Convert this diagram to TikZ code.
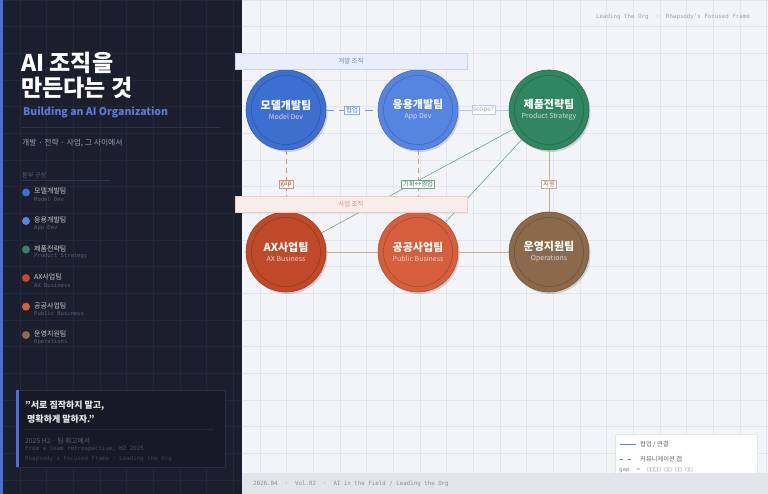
\documentclass[tikz,border=0pt]{standalone}
\usepackage{fontspec}
\setmainfont{Noto Sans CJK KR}
\setmonofont{DejaVu Sans Mono}
\usepackage{tikz}
\usetikzlibrary{positioning,shadows}
\usepackage{xcolor}
\definecolor{paneldark}{RGB}{27,31,45}
\definecolor{panelgrid}{RGB}{35,40,56}
\definecolor{panelrule}{RGB}{46,52,80}
\definecolor{pagebg}{RGB}{242,244,248}
\definecolor{pagegrid}{RGB}{227,230,238}
\definecolor{accentblue}{RGB}{74,111,214}
\definecolor{subblue}{RGB}{91,123,217}
\definecolor{dimtext}{RGB}{90,96,117}
\definecolor{softtext}{RGB}{154,160,176}
\definecolor{cmodel}{RGB}{61,111,208}
\definecolor{capp}{RGB}{85,133,224}
\definecolor{cprod}{RGB}{47,134,96}
\definecolor{cax}{RGB}{192,73,42}
\definecolor{cpub}{RGB}{214,94,60}
\definecolor{cops}{RGB}{138,106,74}
\definecolor{gapred}{RGB}{217,144,122}
\definecolor{linktan}{RGB}{200,173,144}
\definecolor{linkgreen}{RGB}{106,168,126}
\definecolor{barbg}{RGB}{228,229,234}

\newcommand{\teamlabel}[2]{{\bfseries\fontsize{11}{13}\selectfont #1}\\[-2pt]{\fontsize{7}{9}\selectfont\color{white!85!black}#2}}

\begin{document}
\begin{tikzpicture}[x=1pt,y=-1pt,
  team/.style={circle,minimum size=80pt,inner sep=0pt,align=center,text=white,fill=#1,draw=#1!85!black,line width=0.6pt,
    drop shadow={shadow xshift=1.5pt,shadow yshift=-2pt,fill=black,opacity=0.15}},
  ring/.style={circle,minimum size=69pt,inner sep=0pt,draw=#1!75!black,line width=0.5pt},
  orgband/.style={minimum width=232pt,minimum height=16pt,inner sep=0pt,font=\fontsize{6.5}{7}\selectfont},
  tag/.style={solid,fill=white,draw=#1,line width=0.5pt,inner sep=1.3pt,font=\fontsize{6.5}{7}\selectfont},
  dot/.style={circle,fill=#1,minimum size=8pt,inner sep=0pt},
  legkr/.style={anchor=west,inner sep=0pt,text=white!80!black,font=\fontsize{7}{8}\selectfont},
  legen/.style={anchor=west,inner sep=0pt,text=dimtext,font=\ttfamily\fontsize{5.5}{6}\selectfont},
  monolab/.style={anchor=west,inner sep=0pt,font=\ttfamily\fontsize{5.8}{6}\selectfont},
  collab/.style={line width=0.8pt},
  gapline/.style={line width=0.8pt,gapred,dash pattern=on 5pt off 4pt}
]
\useasboundingbox (0,0) rectangle (768,494);

% Background + grid
\fill[pagebg] (0,0) rectangle (768,494);
\foreach \i in {9,...,28} {\draw[pagegrid,line width=0.5pt] ({20+26.667*\i},0) -- ({20+26.667*\i},494);}
\foreach \j in {0,...,18} {\draw[pagegrid,line width=0.5pt] (242,{26.667*\j}) -- (768,{26.667*\j});}

% Left panel
\fill[paneldark] (0,0) rectangle (242,494);
\foreach \i in {0,...,8} {\draw[panelgrid,line width=0.5pt] ({20+26.667*\i},0) -- ({20+26.667*\i},494);}
\foreach \j in {0,...,18} {\draw[panelgrid,line width=0.5pt] (0,{26.667*\j}) -- (242,{26.667*\j});}
\fill[accentblue] (0,0) rectangle (3,494);

% Title block
\node[anchor=west,inner sep=0pt,text=white,font=\bfseries\fontsize{23}{26}\selectfont] (title1) at (21,63) {AI 조직을};
\node[anchor=west,inner sep=0pt,text=white,font=\bfseries\fontsize{23}{26}\selectfont] (title2) at (21,88) {만든다는 것};
\node[anchor=west,inner sep=0pt,text=subblue,font=\bfseries\fontsize{10.5}{12}\selectfont] (subtitle) at (23,112.5) {Building an AI Organization};
\draw[panelrule,line width=0.6pt] (22,127) -- (220,127);
\node[anchor=west,inner sep=0pt,text=softtext,font=\fontsize{7.8}{9}\selectfont] (tagline) at (22,143) {개발 · 전략 · 사업, 그 사이에서};

% Division list
\node[anchor=west,inner sep=0pt,text=dimtext,font=\fontsize{6.2}{7}\selectfont] (listhead) at (22,175) {본부 구성};
\draw[panelrule,line width=0.5pt] (22,180) -- (110,180);
\node[dot=cmodel] (d1) at (26,192.5) {};
\node[legkr] at (34,191.3) {모델개발팀};
\node[legen] at (34,199.5) {Model Dev};
\node[dot=capp] (d2) at (26,221) {};
\node[legkr] at (34,220) {응용개발팀};
\node[legen] at (34,228) {App Dev};
\node[dot=cprod] (d3) at (26,249.5) {};
\node[legkr] at (34,248.5) {제품전략팀};
\node[legen] at (34,256.5) {Product Strategy};
\node[dot=cax] (d4) at (26,278) {};
\node[legkr] at (34,277) {AX사업팀};
\node[legen] at (34,285) {AX Business};
\node[dot=cpub] (d5) at (26,306.7) {};
\node[legkr] at (34,305.5) {공공사업팀};
\node[legen] at (34,313.5) {Public Business};
\node[dot=cops] (d6) at (26,335) {};
\node[legkr] at (34,334) {운영지원팀};
\node[legen] at (34,342) {Operations};

% Quote box
\draw[panelrule!70!paneldark,fill=paneldark!85!black,line width=0.6pt] (16,390) rectangle (225,467);
\fill[accentblue] (16,390) rectangle (19,467);
\node[anchor=west,inner sep=0pt,text=white!92!black,font=\bfseries\fontsize{9}{11}\selectfont] (q1) at (25,405.7) {"서로 짐작하지 말고,};
\node[anchor=west,inner sep=0pt,text=white!92!black,font=\bfseries\fontsize{9}{11}\selectfont] (q2) at (27,419) {명확하게 말하자."};
\draw[panelgrid,line width=0.5pt] (25,429) -- (214,429);
\node[anchor=west,inner sep=0pt,text=dimtext,font=\fontsize{6.8}{8}\selectfont] (qsrc) at (25,440.5) {2025 H2 · 팀 회고에서};
\node[monolab,text=dimtext!75!paneldark] (qen) at (25,448.7) {From a team retrospective, H2 2025};
\node[monolab,text=dimtext!55!paneldark] (qfoot) at (25,458.7) {Rhapsody's Focused Frame · Leading the Org};

% Top-right running head
\node[monolab,text=softtext] (head) at (596,16.7) {Leading the Org \ · \ Rhapsody's Focused Frame};

% Teams
\node[team=cmodel] (md) at (286,110) {\teamlabel{모델개발팀}{Model Dev}};
\node[team=capp] (ad) at (418,110) {\teamlabel{응용개발팀}{App Dev}};
\node[team=cprod] (ps) at (549,110) {\teamlabel{제품전략팀}{Product Strategy}};
\node[team=cax] (ax) at (286,252) {\teamlabel{AX사업팀}{AX Business}};
\node[team=cpub] (pb) at (418,252) {\teamlabel{공공사업팀}{Public Business}};
\node[team=cops] (op) at (549,252) {\teamlabel{운영지원팀}{Operations}};

% Connectors (under the bands)
\draw[linkgreen,line width=0.6pt] (ps) -- (ax);
\draw[linkgreen,line width=0.6pt] (ps) -- (pb);
\draw[collab,capp!80!white,dash pattern=on 8pt off 5pt] (md) -- node[tag=capp!70!white,text=cmodel] (tcollab) {협업} (ad);
\draw[collab,black!25!capp!35!white] (ad) -- node[tag=black!20!capp!35!white,text=softtext] (tscope) {scope?} (ps);
\draw[gapline] (md) -- node[tag=gapred,text=cax,pos=0.55] (tgap) {gap} (ax);
\draw[gapline] (ad) -- node[tag=linkgreen,text=cprod,pos=0.55] (tplan) {기획↔영업} (pb);
\draw[collab,linktan] (ps) -- node[tag=linktan,text=cops,pos=0.55] (tsup) {지원} (op);
\draw[collab,linktan] (ax) -- (pb);
\draw[collab,linktan] (pb) -- (op);

% Org bands
\node[orgband,draw=accentblue!30!white,fill=accentblue!12!white,text=accentblue!55!black!60!white] (devband) at (351,61.5) {개발 조직};
\node[orgband,draw=cax!28!white,fill=cax!10!white,text=cax!60!white] (bizband) at (351,204.3) {사업 조직};

% Rings drawn over the team fills
\node[ring=cmodel] at (md) {};
\node[ring=capp] at (ad) {};
\node[ring=cprod] at (ps) {};
\node[ring=cax] at (ax) {};
\node[ring=cpub] at (pb) {};
\node[ring=cops] at (op) {};

% Legend
\draw[black!10,fill=white,line width=0.5pt] (615,434) rectangle (757,480);
\coordinate (ls1) at (620,444.3);
\coordinate (le1) at (636,444.3);
\draw[capp,line width=0.9pt] (ls1) -- (le1);
\node[anchor=west,inner sep=0pt,text=black!60,font=\fontsize{6.3}{7}\selectfont] (lt1) at (640,444.3) {협업 / 연결};
\coordinate (ls2) at (620,459);
\coordinate (le2) at (636,459);
\draw[capp!60!gray,line width=0.9pt,dash pattern=on 3pt off 5pt] (ls2) -- (le2);
\node[anchor=west,inner sep=0pt,text=black!60,font=\fontsize{6.3}{7}\selectfont] (lt2) at (640,459) {커뮤니케이션 갭};
\node[monolab,text=black!45] (lt3) at (619,470.5) {gap \ = \ □□□□ □□ □□ □□};

% Bottom bar
\fill[barbg] (242,473) rectangle (768,494);
\node[monolab,text=black!45] (foot) at (253,484.3) {2026.04 \ · \ Vol.02 \ · \ AI in the Field / Leading the Org};

\end{tikzpicture}
\end{document}
